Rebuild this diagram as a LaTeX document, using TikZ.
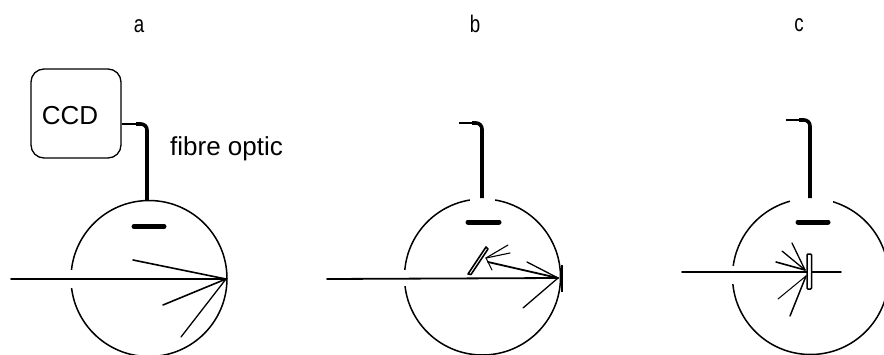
\documentclass[tikz,border=0pt]{standalone}
\usepackage{fontspec}
\setmainfont{Liberation Sans}
\tikzset{
  x=1pt,y=-1pt,
  sphere/.style={circle,draw,line width=1.5pt,inner sep=0pt,minimum size=156pt},
  gap/.style={fill=white,draw=none},
  beam/.style={line width=1.8pt,line cap=round},
  ray/.style={line width=1.3pt,line cap=round},
  fibrethin/.style={line width=2.2pt},
  fibrethick/.style={line width=3.6pt},
  detector/.style={line width=5pt,line cap=round},
  panel/.style={inner sep=0pt,font=\fontsize{24}{24}\selectfont},
  lab/.style={inner sep=0pt,font=\fontsize{26}{28}\selectfont},
  ccdbox/.style={draw,line width=1.3pt,rounded corners=13pt,minimum width=90pt,minimum height=89pt,inner sep=0pt},
}
\newcommand{\narrowed}[1]{\scalebox{0.78}[1]{#1}}
\begin{document}
\begin{tikzpicture}
\useasboundingbox[fill=white] (0,0) rectangle (884,354);
% panel labels
\node[panel] (la) at (139,26) {\narrowed{a}};
\node[panel] (lb) at (475,24) {\narrowed{b}};
\node[panel] (lc) at (799,25) {\narrowed{c}};
% CCD
\node[ccdbox] (ccd) at (76,113.5) {};
\node[lab] (ccdt) at (70,116) {CCD};
\node[lab,anchor=west] (fo) at (170,149) {fibre optic};
% panel a
\node[sphere] (sa) at (149,278.5) {};
\fill[gap] (68,270) rectangle (76,288);
\coordinate (fa0) at (ccd.east |- 0,124);
\coordinate (fa1) at (136,124);
\draw[fibrethin] (fa0) -- (fa1);
\draw[fibrethick,rounded corners=6pt] (fa1) -- (147,124) -- (147,124 |- sa.north);
\coordinate (da0) at (134,226.5); \coordinate (da1) at (164,226.5);
\draw[detector] (da0) -- (da1);
\coordinate (a0) at (11,279); \coordinate (aF) at (226,279);
\draw[beam] (a0) -- (aF);
\coordinate (ar1) at (133,260); \coordinate (ar2) at (163,305); \coordinate (ar3) at (181,337);
\draw[ray,line width=1.6pt] (aF) -- (ar1);
\draw[ray,line width=1.6pt] (aF) -- (ar2);
\draw[ray] (aF) -- (ar3);
% panel b
\node[sphere] (sb) at (482.5,277) {};
\fill[gap] (470,195) rectangle (495,203);
\fill[gap] (402,269.5) rectangle (410,286);
\coordinate (fb0) at (459,123); \coordinate (fb1) at (472,123);
\draw[fibrethin] (fb0) -- (fb1);
\draw[fibrethick,rounded corners=6pt] (fb1) -- (482,123) -- (482,198);
\coordinate (db0) at (468,222); \coordinate (db1) at (499,222);
\draw[detector] (db0) -- (db1);
\coordinate (b0) at (327,279); \coordinate (bF) at (558,278);
\draw[beam] (b0) -- (bF);
\draw[line width=1.6pt] (562,265) -- (562,292);
\draw[line width=1.6pt,fill=white,line join=round] (468,274) -- (471,274.5) -- (488,249) -- (486,247) -- cycle;
\coordinate (bS) at (488,262);
\coordinate (br1) at (527,262); \coordinate (br2) at (523,308);
\draw[ray] (bF) -- (br1);
\draw[ray] (bF) -- (br2);
\draw[ray,line width=1.8pt] (bF) -- (bS);
\coordinate (bs0) at (486,258);
\coordinate (bs1) at (508,245); \coordinate (bs2) at (510,253); \coordinate (bs3) at (492,270);
\draw[ray,line width=1.1pt] (bs0) -- (bs1);
\draw[ray,line width=1.1pt] (bs0) -- (bs2);
\draw[ray,line width=1.1pt] (bs0) -- (bs3);
% panel c
\node[sphere] (sc) at (810.5,276.5) {};
\fill[gap] (790,195) rectangle (833,203);
\fill[gap] (730,265.5) rectangle (738,284);
\coordinate (fc0) at (786,120); \coordinate (fc1) at (799,120);
\draw[fibrethin] (fc0) -- (fc1);
\draw[fibrethick,rounded corners=6pt] (fc1) -- (810,120) -- (810,198);
\coordinate (dc0) at (798,222); \coordinate (dc1) at (828,222);
\draw[detector] (dc0) -- (dc1);
\coordinate (c0) at (682,272); \coordinate (c1) at (841,272);
\draw[beam] (c0) -- (c1);
\draw[line width=1.5pt,fill=white,rounded corners=1pt] (807,254) rectangle (811.5,289);
\coordinate (cu) at (805,270); \coordinate (cd) at (806,276);
\coordinate (cr1) at (792,243); \coordinate (cr2) at (782,251); \coordinate (cr3) at (776,262);
\coordinate (cr4) at (778,299); \coordinate (cr5) at (790,316);
\draw[ray] (cu) -- (cr1);
\draw[ray] (cu) -- (cr2);
\draw[ray,line width=1.6pt] (cu) -- (cr3);
\draw[ray,line width=1pt] (cd) -- (cr4);
\draw[ray,line width=1.5pt] (cd) -- (cr5);
\end{tikzpicture}
\end{document}
